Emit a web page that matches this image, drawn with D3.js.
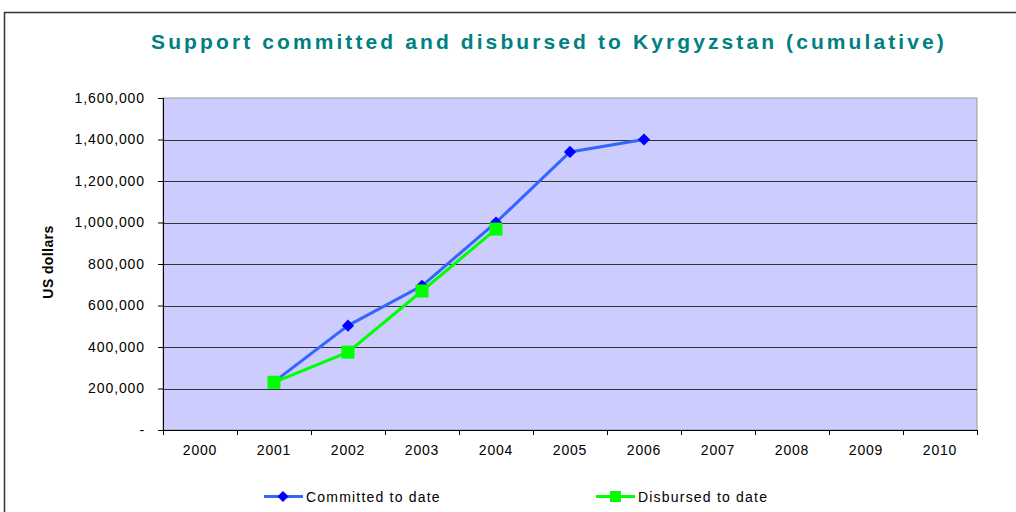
<!DOCTYPE html>
<html>
<head>
<meta charset="utf-8">
<script src="https://cdn.jsdelivr.net/npm/d3@7"></script>
<style>
  body { margin: 0; background: #fff; }
  text { font-family: "Liberation Sans", Arial, sans-serif; }
</style>
</head>
<body>
<div id="chart"></div>
<script>
// data
var years = ["2000", "2001", "2002", "2003", "2004", "2005", "2006", "2007", "2008", "2009", "2010"];
var committed = [null, 232000, 503000, 695000, 1000000, 1340000, 1400000, null, null, null, null];
var disbursed = [null, 230000, 375000, 670000, 968000, null, null, null, null, null, null];
var yTicks = [0, 200000, 400000, 600000, 800000, 1000000, 1200000, 1400000, 1600000];

var W = 1016, H = 512;
var margin = {top: 98, right: 39, bottom: 82, left: 163},
    width = W - margin.left - margin.right,
    height = H - margin.top - margin.bottom;

var root = d3.select("#chart")
  .append("svg")
    .attr("width", W)
    .attr("height", H);

// outer chart frame
root.append("rect")
  .attr("x", 4.5).attr("y", 12.5)
  .attr("width", W + 20).attr("height", H + 20)
  .attr("fill", "none")
  .attr("stroke", "#333")
  .attr("stroke-width", 1.5);

root.append("text")
  .attr("x", 549).attr("y", 49)
  .attr("text-anchor", "middle")
  .attr("font-size", "21px")
  .attr("font-weight", "bold")
  .attr("letter-spacing", "3.1px")
  .attr("fill", "#008080")
  .text("Support committed and disbursed to Kyrgyzstan (cumulative)");

var svg = root.append("g")
  .attr("transform", "translate(" + margin.left + "," + margin.top + ")");

var x = d3.scaleBand()
  .domain(years)
  .range([0, width]);

var y = d3.scaleLinear()
  .domain([0, 1600000])
  .range([height, 0]);

// plot area
svg.append("rect")
  .attr("width", width)
  .attr("height", height)
  .attr("fill", "#CCCCFF")
  .attr("stroke", "#999")
  .attr("stroke-width", 1);

// grid lines
svg.append("g")
  .selectAll("line")
  .data(yTicks.slice(1, -1))
  .enter()
  .append("line")
    .attr("x1", 0).attr("x2", width)
    .attr("y1", d => Math.round(y(d)) + 0.5)
    .attr("y2", d => Math.round(y(d)) + 0.5)
    .attr("stroke", "#333")
    .attr("stroke-width", 1);

// Y axis
var yAxis = svg.append("g")
  .call(d3.axisLeft(y)
    .tickValues(yTicks)
    .tickSize(5)
    .tickPadding(13)
    .tickFormat(d => d === 0 ? "-" : d3.format(",")(d)));
yAxis.select(".domain").attr("stroke", "#000");
yAxis.selectAll("text")
  .attr("font-size", "14px")
  .attr("letter-spacing", "0.9px")
  .attr("fill", "#000")
  .style("font-family", "'Liberation Sans', Arial, sans-serif");

// X axis: ticks at category boundaries
var xg = svg.append("g")
  .attr("transform", "translate(0," + height + ")");
xg.append("line")
  .attr("x1", 0).attr("x2", width)
  .attr("y1", 0.5).attr("y2", 0.5)
  .attr("stroke", "#000");
xg.selectAll(".tk")
  .data(d3.range(years.length + 1))
  .enter()
  .append("line")
    .attr("class", "tk")
    .attr("x1", i => Math.round(i * x.step()) + 0.5)
    .attr("x2", i => Math.round(i * x.step()) + 0.5)
    .attr("y1", 0).attr("y2", 5)
    .attr("stroke", "#000");
xg.selectAll(".lbl")
  .data(years)
  .enter()
  .append("text")
    .attr("class", "lbl")
    .attr("x", d => x(d) + x.bandwidth() / 2)
    .attr("y", 25)
    .attr("text-anchor", "middle")
    .attr("font-size", "14px")
    .attr("letter-spacing", "0.8px")
    .text(d => d);

// Y axis title
root.append("text")
  .attr("transform", "translate(53," + (margin.top + height / 2 - 2) + ") rotate(-90)")
  .attr("text-anchor", "middle")
  .attr("font-size", "14px")
  .attr("font-weight", "bold")
  .attr("letter-spacing", "0.4px")
  .text("US dollars");

// lines
var cx = i => x(years[i]) + x.bandwidth() / 2;
var line = d3.line()
  .defined(d => d.v != null)
  .x(d => cx(d.i))
  .y(d => y(d.v));

var cData = committed.map((v, i) => ({i: i, v: v}));
var dData = disbursed.map((v, i) => ({i: i, v: v}));

svg.append("path")
  .datum(cData)
  .attr("d", line)
  .attr("fill", "none")
  .attr("stroke", "#3366FF")
  .attr("stroke-width", 3);

svg.append("path")
  .datum(dData)
  .attr("d", line)
  .attr("fill", "none")
  .attr("stroke", "#00FF00")
  .attr("stroke-width", 3);

var diamond = d3.symbol().type(d3.symbolDiamond2).size(95);

svg.append("g")
  .selectAll("path")
  .data(cData.filter(d => d.v != null))
  .enter()
  .append("path")
    .attr("d", diamond)
    .attr("transform", d => "translate(" + cx(d.i) + "," + y(d.v) + ")")
    .attr("fill", "#0000FF");

svg.append("g")
  .selectAll("rect")
  .data(dData.filter(d => d.v != null))
  .enter()
  .append("rect")
    .attr("x", d => cx(d.i) - 6.5)
    .attr("y", d => y(d.v) - 6.5)
    .attr("width", 13).attr("height", 13)
    .attr("fill", "#00FF00");

// legend
var legend = [
  {name: "Committed to date", x: 264, stroke: "#3366FF", fill: "#0000FF", shape: "diamond"},
  {name: "Disbursed to date", x: 596, stroke: "#00FF00", fill: "#00FF00", shape: "square"}
];
var lg = root.append("g")
  .selectAll("g")
  .data(legend)
  .enter()
  .append("g")
    .attr("transform", d => "translate(" + d.x + ",496.5)");
lg.append("line")
  .attr("x1", 0).attr("x2", 39)
  .attr("stroke", d => d.stroke)
  .attr("stroke-width", 3);
lg.filter(d => d.shape === "diamond")
  .append("path")
    .attr("d", d3.symbol().type(d3.symbolDiamond2).size(80))
    .attr("transform", "translate(19,0)")
    .attr("fill", d => d.fill);
lg.filter(d => d.shape === "square")
  .append("rect")
    .attr("x", 14).attr("y", -5.5)
    .attr("width", 11).attr("height", 11)
    .attr("fill", d => d.fill);
lg.append("text")
  .attr("x", 42)
  .attr("y", 5)
  .attr("font-size", "14px")
  .attr("letter-spacing", "1.2px")
  .text(d => d.name);
</script>
</body>
</html>
